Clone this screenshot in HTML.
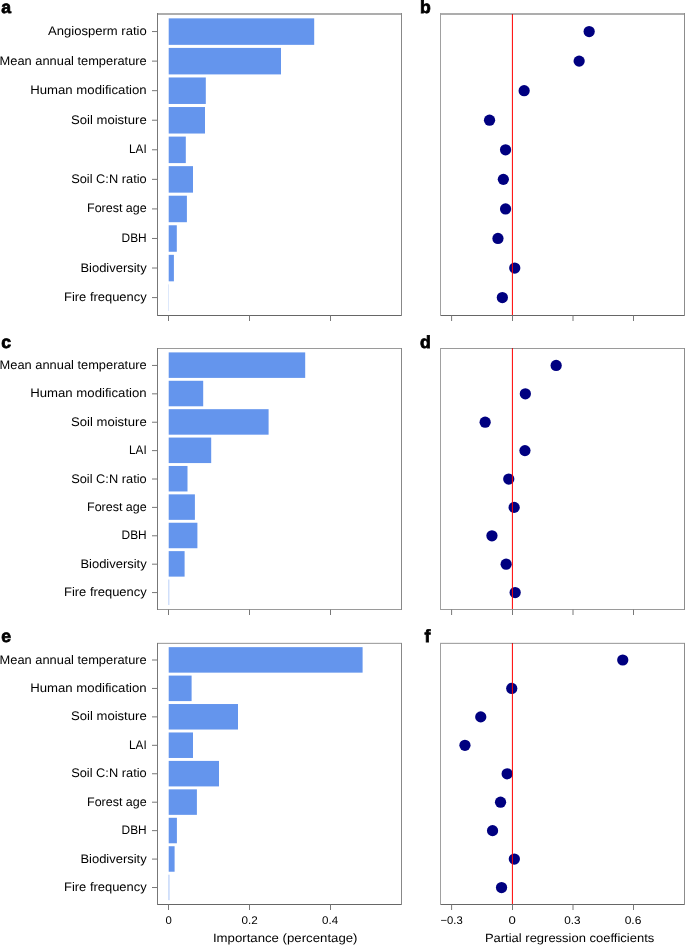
<!DOCTYPE html>
<html><head><meta charset="utf-8"><style>
html,body{margin:0;padding:0;background:#fff;width:685px;height:945px;overflow:hidden}
svg{display:block;font-family:"Liberation Sans",sans-serif;will-change:transform;text-rendering:geometricPrecision}
</style></head><body>
<svg width="685" height="945" viewBox="0 0 685 945">
<rect width="685" height="945" fill="#fff"/>
<rect x="168.70" y="18.35" width="145.50" height="26.50" fill="#6495ed"/>
<line x1="152" y1="31.55" x2="157.5" y2="31.55" stroke="#787878" stroke-width="1"/>
<text x="146.7" y="35.10" text-anchor="end" font-size="12.4" fill="#000000" textLength="98.7" lengthAdjust="spacingAndGlyphs">Angiosperm ratio</text>
<rect x="168.70" y="47.91" width="112.30" height="26.50" fill="#6495ed"/>
<line x1="152" y1="61.11" x2="157.5" y2="61.11" stroke="#787878" stroke-width="1"/>
<text x="146.7" y="64.66" text-anchor="end" font-size="12.4" fill="#000000" textLength="147.1" lengthAdjust="spacingAndGlyphs">Mean annual temperature</text>
<rect x="168.70" y="77.47" width="37.10" height="26.50" fill="#6495ed"/>
<line x1="152" y1="90.67" x2="157.5" y2="90.67" stroke="#787878" stroke-width="1"/>
<text x="146.7" y="94.22" text-anchor="end" font-size="12.4" fill="#000000" textLength="116.5" lengthAdjust="spacingAndGlyphs">Human modification</text>
<rect x="168.70" y="107.03" width="36.30" height="26.50" fill="#6495ed"/>
<line x1="152" y1="120.23" x2="157.5" y2="120.23" stroke="#787878" stroke-width="1"/>
<text x="146.7" y="123.78" text-anchor="end" font-size="12.4" fill="#000000" textLength="75.7" lengthAdjust="spacingAndGlyphs">Soil moisture</text>
<rect x="168.70" y="136.59" width="17.10" height="26.50" fill="#6495ed"/>
<line x1="152" y1="149.79" x2="157.5" y2="149.79" stroke="#787878" stroke-width="1"/>
<text x="146.7" y="153.34" text-anchor="end" font-size="12.4" fill="#000000" textLength="17.6" lengthAdjust="spacingAndGlyphs">LAI</text>
<rect x="168.70" y="166.15" width="24.30" height="26.50" fill="#6495ed"/>
<line x1="152" y1="179.35" x2="157.5" y2="179.35" stroke="#787878" stroke-width="1"/>
<text x="146.7" y="182.90" text-anchor="end" font-size="12.4" fill="#000000" textLength="75.5" lengthAdjust="spacingAndGlyphs">Soil C:N ratio</text>
<rect x="168.70" y="195.71" width="18.20" height="26.50" fill="#6495ed"/>
<line x1="152" y1="208.91" x2="157.5" y2="208.91" stroke="#787878" stroke-width="1"/>
<text x="146.7" y="212.46" text-anchor="end" font-size="12.4" fill="#000000" textLength="59.7" lengthAdjust="spacingAndGlyphs">Forest age</text>
<rect x="168.70" y="225.27" width="8.10" height="26.50" fill="#6495ed"/>
<line x1="152" y1="238.47" x2="157.5" y2="238.47" stroke="#787878" stroke-width="1"/>
<text x="146.7" y="242.02" text-anchor="end" font-size="12.4" fill="#000000" textLength="25.1" lengthAdjust="spacingAndGlyphs">DBH</text>
<rect x="168.70" y="254.83" width="5.20" height="26.50" fill="#6495ed"/>
<line x1="152" y1="268.03" x2="157.5" y2="268.03" stroke="#787878" stroke-width="1"/>
<text x="146.7" y="271.58" text-anchor="end" font-size="12.4" fill="#000000" textLength="66.3" lengthAdjust="spacingAndGlyphs">Biodiversity</text>
<rect x="168.70" y="284.39" width="0.22" height="26.50" fill="#6495ed"/>
<line x1="152" y1="297.59" x2="157.5" y2="297.59" stroke="#787878" stroke-width="1"/>
<text x="146.7" y="301.14" text-anchor="end" font-size="12.4" fill="#000000" textLength="82.7" lengthAdjust="spacingAndGlyphs">Fire frequency</text>
<rect x="157" y="13" width="245" height="1" fill="#adadad"/>
<rect x="157" y="14" width="245" height="1" fill="#adadad"/>
<rect x="157" y="315" width="245" height="1" fill="#666666"/>
<rect x="157" y="13" width="1" height="303" fill="#777777"/>
<rect x="401" y="13" width="1" height="303" fill="#888888"/>
<line x1="168.5" y1="315.5" x2="168.5" y2="321.0" stroke="#787878" stroke-width="1"/>
<line x1="249.5" y1="315.5" x2="249.5" y2="321.0" stroke="#787878" stroke-width="1"/>
<line x1="330.5" y1="315.5" x2="330.5" y2="321.0" stroke="#787878" stroke-width="1"/>
<circle cx="589.15" cy="31.55" r="5.62" fill="#000080"/>
<circle cx="579.15" cy="61.11" r="5.62" fill="#000080"/>
<circle cx="524.15" cy="90.67" r="5.62" fill="#000080"/>
<circle cx="489.55" cy="120.23" r="5.62" fill="#000080"/>
<circle cx="505.55" cy="149.79" r="5.62" fill="#000080"/>
<circle cx="503.35" cy="179.35" r="5.62" fill="#000080"/>
<circle cx="505.55" cy="208.91" r="5.62" fill="#000080"/>
<circle cx="497.95" cy="238.47" r="5.62" fill="#000080"/>
<circle cx="514.75" cy="268.03" r="5.62" fill="#000080"/>
<circle cx="502.35" cy="297.59" r="5.62" fill="#000080"/>
<rect x="440" y="13" width="245" height="1" fill="#adadad"/>
<rect x="440" y="14" width="245" height="1" fill="#adadad"/>
<rect x="440" y="315" width="245" height="1" fill="#666666"/>
<rect x="440" y="13" width="1" height="303" fill="#a0a0a0"/>
<rect x="684" y="13" width="1" height="303" fill="#8c8c8c"/>
<rect x="511.90" y="14" width="1" height="1" fill="#b81818"/>
<rect x="511.90" y="15" width="1" height="300" fill="#ff0000"/>
<line x1="451.6" y1="315.5" x2="451.6" y2="321.0" stroke="#787878" stroke-width="1"/>
<line x1="512.5" y1="315.5" x2="512.5" y2="321.0" stroke="#787878" stroke-width="1"/>
<line x1="573.0" y1="315.5" x2="573.0" y2="321.0" stroke="#787878" stroke-width="1"/>
<line x1="633.5" y1="315.5" x2="633.5" y2="321.0" stroke="#787878" stroke-width="1"/>
<text x="1.2" y="13.0" font-size="17.6" font-weight="bold" fill="#000" stroke="#000" stroke-width="0.75">a</text>
<text x="419.9" y="13.0" font-size="17.6" font-weight="bold" fill="#000" stroke="#000" stroke-width="0.75">b</text>
<rect x="168.70" y="352.40" width="136.50" height="25.50" fill="#6495ed"/>
<line x1="152" y1="365.45" x2="157.5" y2="365.45" stroke="#787878" stroke-width="1"/>
<text x="146.7" y="369.00" text-anchor="end" font-size="12.4" fill="#000000" textLength="147.1" lengthAdjust="spacingAndGlyphs">Mean annual temperature</text>
<rect x="168.70" y="380.79" width="34.50" height="25.50" fill="#6495ed"/>
<line x1="152" y1="393.84" x2="157.5" y2="393.84" stroke="#787878" stroke-width="1"/>
<text x="146.7" y="397.39" text-anchor="end" font-size="12.4" fill="#000000" textLength="116.5" lengthAdjust="spacingAndGlyphs">Human modification</text>
<rect x="168.70" y="409.18" width="99.90" height="25.50" fill="#6495ed"/>
<line x1="152" y1="422.23" x2="157.5" y2="422.23" stroke="#787878" stroke-width="1"/>
<text x="146.7" y="425.78" text-anchor="end" font-size="12.4" fill="#000000" textLength="75.7" lengthAdjust="spacingAndGlyphs">Soil moisture</text>
<rect x="168.70" y="437.57" width="42.50" height="25.50" fill="#6495ed"/>
<line x1="152" y1="450.62" x2="157.5" y2="450.62" stroke="#787878" stroke-width="1"/>
<text x="146.7" y="454.17" text-anchor="end" font-size="12.4" fill="#000000" textLength="17.6" lengthAdjust="spacingAndGlyphs">LAI</text>
<rect x="168.70" y="465.96" width="18.80" height="25.50" fill="#6495ed"/>
<line x1="152" y1="479.01" x2="157.5" y2="479.01" stroke="#787878" stroke-width="1"/>
<text x="146.7" y="482.56" text-anchor="end" font-size="12.4" fill="#000000" textLength="75.5" lengthAdjust="spacingAndGlyphs">Soil C:N ratio</text>
<rect x="168.70" y="494.35" width="26.20" height="25.50" fill="#6495ed"/>
<line x1="152" y1="507.40" x2="157.5" y2="507.40" stroke="#787878" stroke-width="1"/>
<text x="146.7" y="510.95" text-anchor="end" font-size="12.4" fill="#000000" textLength="59.7" lengthAdjust="spacingAndGlyphs">Forest age</text>
<rect x="168.70" y="522.74" width="28.70" height="25.50" fill="#6495ed"/>
<line x1="152" y1="535.79" x2="157.5" y2="535.79" stroke="#787878" stroke-width="1"/>
<text x="146.7" y="539.34" text-anchor="end" font-size="12.4" fill="#000000" textLength="25.1" lengthAdjust="spacingAndGlyphs">DBH</text>
<rect x="168.70" y="551.13" width="15.90" height="25.50" fill="#6495ed"/>
<line x1="152" y1="564.18" x2="157.5" y2="564.18" stroke="#787878" stroke-width="1"/>
<text x="146.7" y="567.73" text-anchor="end" font-size="12.4" fill="#000000" textLength="66.3" lengthAdjust="spacingAndGlyphs">Biodiversity</text>
<rect x="168.70" y="579.52" width="0.45" height="25.50" fill="#6495ed"/>
<line x1="152" y1="592.57" x2="157.5" y2="592.57" stroke="#787878" stroke-width="1"/>
<text x="146.7" y="596.12" text-anchor="end" font-size="12.4" fill="#000000" textLength="82.7" lengthAdjust="spacingAndGlyphs">Fire frequency</text>
<rect x="157" y="348" width="245" height="1" fill="#9a9a9a"/>
<rect x="157" y="609" width="245" height="1" fill="#9a9a9a"/>
<rect x="157" y="348" width="1" height="262" fill="#777777"/>
<rect x="401" y="348" width="1" height="262" fill="#888888"/>
<line x1="168.5" y1="609.5" x2="168.5" y2="615.0" stroke="#787878" stroke-width="1"/>
<line x1="249.5" y1="609.5" x2="249.5" y2="615.0" stroke="#787878" stroke-width="1"/>
<line x1="330.5" y1="609.5" x2="330.5" y2="615.0" stroke="#787878" stroke-width="1"/>
<circle cx="556.15" cy="365.45" r="5.62" fill="#000080"/>
<circle cx="525.35" cy="393.84" r="5.62" fill="#000080"/>
<circle cx="485.15" cy="422.23" r="5.62" fill="#000080"/>
<circle cx="524.95" cy="450.62" r="5.62" fill="#000080"/>
<circle cx="508.75" cy="479.01" r="5.62" fill="#000080"/>
<circle cx="514.15" cy="507.40" r="5.62" fill="#000080"/>
<circle cx="491.95" cy="535.79" r="5.62" fill="#000080"/>
<circle cx="506.15" cy="564.18" r="5.62" fill="#000080"/>
<circle cx="515.15" cy="592.57" r="5.62" fill="#000080"/>
<rect x="440" y="348" width="245" height="1" fill="#9a9a9a"/>
<rect x="440" y="609" width="245" height="1" fill="#9a9a9a"/>
<rect x="440" y="348" width="1" height="262" fill="#a0a0a0"/>
<rect x="684" y="348" width="1" height="262" fill="#8c8c8c"/>
<rect x="511.90" y="348" width="1" height="1" fill="#b81818"/>
<rect x="511.90" y="349" width="1" height="260" fill="#ff0000"/>
<line x1="451.6" y1="609.5" x2="451.6" y2="615.0" stroke="#787878" stroke-width="1"/>
<line x1="512.5" y1="609.5" x2="512.5" y2="615.0" stroke="#787878" stroke-width="1"/>
<line x1="573.0" y1="609.5" x2="573.0" y2="615.0" stroke="#787878" stroke-width="1"/>
<line x1="633.5" y1="609.5" x2="633.5" y2="615.0" stroke="#787878" stroke-width="1"/>
<text x="1.2" y="348.0" font-size="17.6" font-weight="bold" fill="#000" stroke="#000" stroke-width="0.75">c</text>
<text x="419.9" y="348.0" font-size="17.6" font-weight="bold" fill="#000" stroke="#000" stroke-width="0.75">d</text>
<rect x="168.70" y="647.15" width="193.90" height="25.50" fill="#6495ed"/>
<line x1="152" y1="660.00" x2="157.5" y2="660.00" stroke="#787878" stroke-width="1"/>
<text x="146.7" y="663.55" text-anchor="end" font-size="12.4" fill="#000000" textLength="147.1" lengthAdjust="spacingAndGlyphs">Mean annual temperature</text>
<rect x="168.70" y="675.59" width="22.90" height="25.50" fill="#6495ed"/>
<line x1="152" y1="688.44" x2="157.5" y2="688.44" stroke="#787878" stroke-width="1"/>
<text x="146.7" y="691.99" text-anchor="end" font-size="12.4" fill="#000000" textLength="116.5" lengthAdjust="spacingAndGlyphs">Human modification</text>
<rect x="168.70" y="704.03" width="69.30" height="25.50" fill="#6495ed"/>
<line x1="152" y1="716.88" x2="157.5" y2="716.88" stroke="#787878" stroke-width="1"/>
<text x="146.7" y="720.43" text-anchor="end" font-size="12.4" fill="#000000" textLength="75.7" lengthAdjust="spacingAndGlyphs">Soil moisture</text>
<rect x="168.70" y="732.47" width="24.30" height="25.50" fill="#6495ed"/>
<line x1="152" y1="745.32" x2="157.5" y2="745.32" stroke="#787878" stroke-width="1"/>
<text x="146.7" y="748.87" text-anchor="end" font-size="12.4" fill="#000000" textLength="17.6" lengthAdjust="spacingAndGlyphs">LAI</text>
<rect x="168.70" y="760.91" width="50.30" height="25.50" fill="#6495ed"/>
<line x1="152" y1="773.76" x2="157.5" y2="773.76" stroke="#787878" stroke-width="1"/>
<text x="146.7" y="777.31" text-anchor="end" font-size="12.4" fill="#000000" textLength="75.5" lengthAdjust="spacingAndGlyphs">Soil C:N ratio</text>
<rect x="168.70" y="789.35" width="28.20" height="25.50" fill="#6495ed"/>
<line x1="152" y1="802.20" x2="157.5" y2="802.20" stroke="#787878" stroke-width="1"/>
<text x="146.7" y="805.75" text-anchor="end" font-size="12.4" fill="#000000" textLength="59.7" lengthAdjust="spacingAndGlyphs">Forest age</text>
<rect x="168.70" y="817.79" width="8.20" height="25.50" fill="#6495ed"/>
<line x1="152" y1="830.64" x2="157.5" y2="830.64" stroke="#787878" stroke-width="1"/>
<text x="146.7" y="834.19" text-anchor="end" font-size="12.4" fill="#000000" textLength="25.1" lengthAdjust="spacingAndGlyphs">DBH</text>
<rect x="168.70" y="846.23" width="5.90" height="25.50" fill="#6495ed"/>
<line x1="152" y1="859.08" x2="157.5" y2="859.08" stroke="#787878" stroke-width="1"/>
<text x="146.7" y="862.63" text-anchor="end" font-size="12.4" fill="#000000" textLength="66.3" lengthAdjust="spacingAndGlyphs">Biodiversity</text>
<rect x="168.70" y="874.67" width="0.55" height="25.50" fill="#6495ed"/>
<line x1="152" y1="887.52" x2="157.5" y2="887.52" stroke="#787878" stroke-width="1"/>
<text x="146.7" y="891.07" text-anchor="end" font-size="12.4" fill="#000000" textLength="82.7" lengthAdjust="spacingAndGlyphs">Fire frequency</text>
<rect x="157" y="642" width="245" height="1" fill="#eeeeee"/>
<rect x="157" y="643" width="245" height="1" fill="#a5a5a5"/>
<rect x="157" y="904" width="245" height="1" fill="#666666"/>
<rect x="157" y="643" width="1" height="262" fill="#777777"/>
<rect x="401" y="643" width="1" height="262" fill="#888888"/>
<line x1="168.5" y1="904.5" x2="168.5" y2="910.0" stroke="#787878" stroke-width="1"/>
<line x1="249.5" y1="904.5" x2="249.5" y2="910.0" stroke="#787878" stroke-width="1"/>
<line x1="330.5" y1="904.5" x2="330.5" y2="910.0" stroke="#787878" stroke-width="1"/>
<circle cx="622.75" cy="660.00" r="5.62" fill="#000080"/>
<circle cx="511.75" cy="688.44" r="5.62" fill="#000080"/>
<circle cx="480.75" cy="716.88" r="5.62" fill="#000080"/>
<circle cx="464.95" cy="745.32" r="5.62" fill="#000080"/>
<circle cx="507.15" cy="773.76" r="5.62" fill="#000080"/>
<circle cx="500.55" cy="802.20" r="5.62" fill="#000080"/>
<circle cx="492.55" cy="830.64" r="5.62" fill="#000080"/>
<circle cx="514.35" cy="859.08" r="5.62" fill="#000080"/>
<circle cx="501.55" cy="887.52" r="5.62" fill="#000080"/>
<rect x="440" y="642" width="245" height="1" fill="#eeeeee"/>
<rect x="440" y="643" width="245" height="1" fill="#a5a5a5"/>
<rect x="440" y="904" width="245" height="1" fill="#666666"/>
<rect x="440" y="643" width="1" height="262" fill="#a0a0a0"/>
<rect x="684" y="643" width="1" height="262" fill="#8c8c8c"/>
<rect x="511.90" y="643" width="1" height="1" fill="#b81818"/>
<rect x="511.90" y="644" width="1" height="260" fill="#ff0000"/>
<line x1="451.6" y1="904.5" x2="451.6" y2="910.0" stroke="#787878" stroke-width="1"/>
<line x1="512.5" y1="904.5" x2="512.5" y2="910.0" stroke="#787878" stroke-width="1"/>
<line x1="573.0" y1="904.5" x2="573.0" y2="910.0" stroke="#787878" stroke-width="1"/>
<line x1="633.5" y1="904.5" x2="633.5" y2="910.0" stroke="#787878" stroke-width="1"/>
<text x="1.2" y="642.3" font-size="17.6" font-weight="bold" fill="#000" stroke="#000" stroke-width="0.75">e</text>
<text x="424.6" y="642.3" font-size="17.6" font-weight="bold" fill="#000" stroke="#000" stroke-width="0.75">f</text>
<text x="165.55" y="923.8" font-size="11.1" fill="#000000" textLength="6.30" lengthAdjust="spacingAndGlyphs">0</text>
<text x="241.45" y="923.8" font-size="11.1" fill="#000000" textLength="16.20" lengthAdjust="spacingAndGlyphs">0.2</text>
<text x="322.05" y="923.8" font-size="11.1" fill="#000000" textLength="16.10" lengthAdjust="spacingAndGlyphs">0.4</text>
<text x="440.55" y="923.8" font-size="11.1" fill="#000000" textLength="22.20" lengthAdjust="spacingAndGlyphs">−0.3</text>
<text x="508.45" y="923.8" font-size="11.1" fill="#000000" textLength="7.30" lengthAdjust="spacingAndGlyphs">0</text>
<text x="564.25" y="923.8" font-size="11.1" fill="#000000" textLength="16.30" lengthAdjust="spacingAndGlyphs">0.3</text>
<text x="624.65" y="923.8" font-size="11.1" fill="#000000" textLength="16.70" lengthAdjust="spacingAndGlyphs">0.6</text>
<text x="212.9" y="942.3" font-size="12.0" fill="#000000" textLength="144.6" lengthAdjust="spacingAndGlyphs">Importance (percentage)</text>
<text x="484.9" y="942.3" font-size="12.0" fill="#000000" textLength="169.4" lengthAdjust="spacingAndGlyphs">Partial regression coefficients</text>
</svg>
</body></html>
